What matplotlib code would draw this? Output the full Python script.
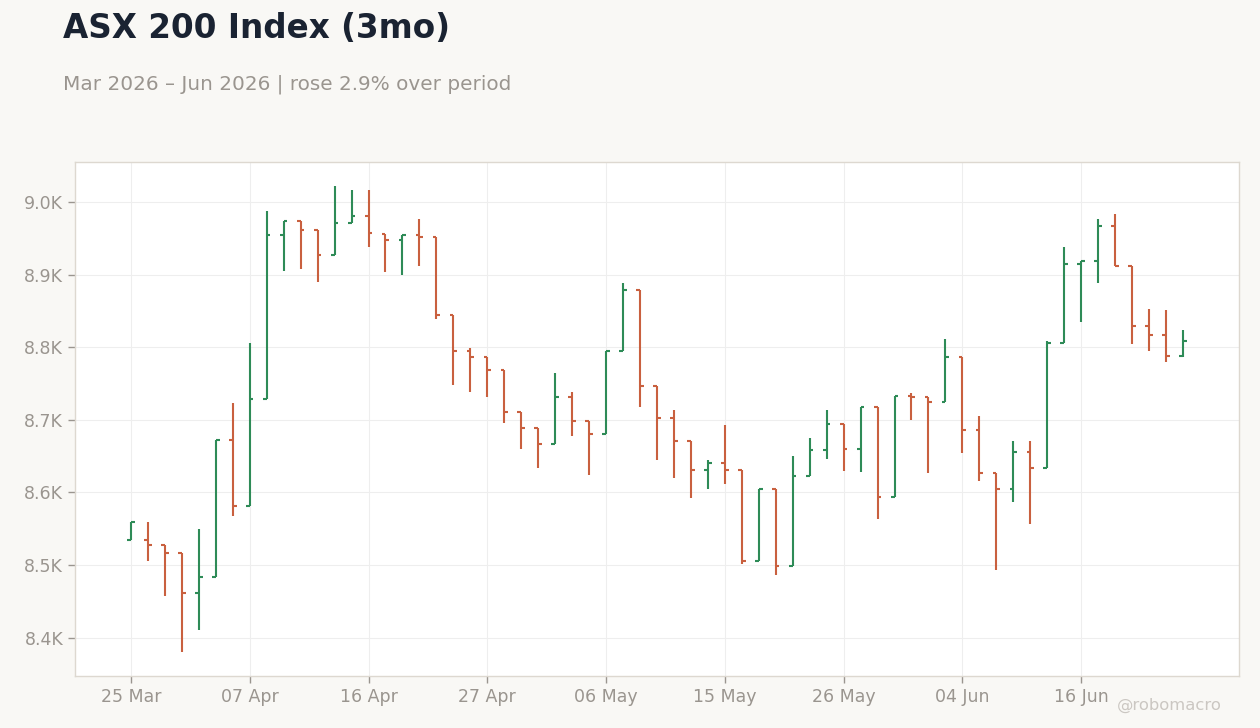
import numpy as np
import matplotlib
matplotlib.use("Agg")
import matplotlib.pyplot as plt
from matplotlib.ticker import FuncFormatter

plt.rcParams["font.family"] = ["DejaVu Sans"]

# trading days (ASX) from 25 Mar to 24 Jun 2026
dates = [
    "25 Mar", "26 Mar", "27 Mar", "30 Mar", "31 Mar", "01 Apr", "02 Apr",
    "07 Apr", "08 Apr", "09 Apr", "10 Apr", "13 Apr", "14 Apr", "15 Apr",
    "16 Apr", "17 Apr", "20 Apr", "21 Apr", "22 Apr", "23 Apr", "24 Apr",
    "27 Apr", "28 Apr", "29 Apr", "30 Apr", "01 May", "04 May", "05 May",
    "06 May", "07 May", "08 May", "11 May", "12 May", "13 May", "14 May",
    "15 May", "18 May", "19 May", "20 May", "21 May", "22 May", "25 May",
    "26 May", "27 May", "28 May", "29 May", "01 Jun", "02 Jun", "03 Jun",
    "04 Jun", "05 Jun", "09 Jun", "10 Jun", "11 Jun", "12 Jun", "15 Jun",
    "16 Jun", "17 Jun", "18 Jun", "19 Jun", "22 Jun", "23 Jun", "24 Jun",
]

opens = [
    8535, 8535, 8527, 8517, 8461, 8483, 8672, 8581, 8729, 8954, 8974, 8961,
    8927, 8971, 8980, 8956, 8948, 8955, 8951, 8844, 8794, 8787, 8768, 8711,
    8688, 8667, 8731, 8698, 8681, 8795, 8879, 8746, 8703, 8671, 8631, 8641,
    8631, 8506, 8605, 8498, 8623, 8658, 8694, 8659, 8718, 8594, 8733, 8731,
    8725, 8787, 8686, 8626, 8605, 8655, 8634, 8805, 8915, 8919, 8967, 8912,
    8829, 8817, 8788,
]
highs = [
    8559, 8559, 8527, 8517, 8550, 8672, 8723, 8805, 8988, 8974, 8974, 8961,
    9022, 9016, 9017, 8956, 8955, 8976, 8951, 8844, 8799, 8787, 8768, 8711,
    8688, 8764, 8738, 8698, 8795, 8888, 8879, 8746, 8714, 8671, 8645, 8693,
    8631, 8605, 8605, 8650, 8675, 8714, 8694, 8718, 8718, 8733, 8737, 8731,
    8811, 8787, 8705, 8626, 8671, 8671, 8809, 8938, 8919, 8977, 8984, 8912,
    8853, 8851, 8824,
]
lows = [
    8535, 8505, 8457, 8380, 8411, 8483, 8568, 8581, 8729, 8905, 8907, 8890,
    8927, 8971, 8938, 8904, 8900, 8912, 8839, 8748, 8738, 8731, 8695, 8660,
    8633, 8667, 8677, 8624, 8681, 8795, 8718, 8644, 8620, 8592, 8604, 8611,
    8501, 8506, 8486, 8498, 8623, 8646, 8630, 8628, 8563, 8594, 8699, 8627,
    8725, 8654, 8615, 8493, 8586, 8556, 8634, 8805, 8835, 8889, 8912, 8804,
    8795, 8779, 8786,
]
closes = [
    8559, 8527, 8517, 8461, 8483, 8672, 8581, 8729, 8954, 8974, 8961, 8927,
    8971, 8980, 8957, 8948, 8955, 8951, 8844, 8794, 8787, 8768, 8711, 8688,
    8667, 8731, 8698, 8681, 8795, 8879, 8746, 8703, 8671, 8631, 8641, 8631,
    8506, 8605, 8498, 8623, 8658, 8694, 8659, 8718, 8594, 8733, 8731, 8725,
    8787, 8686, 8626, 8605, 8655, 8634, 8805, 8915, 8919, 8967, 8912, 8829,
    8817, 8788, 8809,
]

title = "ASX 200 Index (3mo)"
subtitle = "Mar 2026 \u2013 Jun 2026 | rose 2.9% over period"

up_color = "#2e8b57"
down_color = "#c9603f"
bg = "#f9f8f5"

x = np.arange(len(dates))
o = np.array(opens)
h = np.array(highs)
l = np.array(lows)
c = np.array(closes)
colors = [up_color if cc >= oo else down_color for oo, cc in zip(o, c)]

fig = plt.figure(figsize=(12.6, 7.28), dpi=100, facecolor=bg)
ax = fig.add_axes([0.0595, 0.0714, 0.9238, 0.7061])
ax.set_facecolor("white")

tw = 0.22
ax.vlines(x, l, h, colors=colors, linewidth=1.5)
ax.hlines(o, x - tw, x, colors=colors, linewidth=1.5)
ax.hlines(c, x, x + tw, colors=colors, linewidth=1.5)

ax.set_xlim(-3.3, 65.3)
ax.set_ylim(8347, 9055)

tick_idx = list(range(0, len(dates), 7))
ax.set_xticks(tick_idx)
ax.set_xticklabels([dates[i] for i in tick_idx])
ax.set_yticks([8400, 8500, 8600, 8700, 8800, 8900, 9000])
ax.yaxis.set_major_formatter(FuncFormatter(lambda v, p: f"{v/1000:.1f}K"))

ax.grid(True, color="#eeeeee", linewidth=0.8)
ax.set_axisbelow(True)
for s in ax.spines.values():
    s.set_color("#ddd8d0")
    s.set_linewidth(1)
ax.tick_params(colors="#9a958f", labelsize=12.5, length=5, width=1)

fig.text(0.05, 0.983, title, fontsize=23.5, fontweight="bold", color="#1a2332",
         va="top", ha="left")
fig.text(0.05, 0.898, subtitle, fontsize=14.4, color="#9a958f",
         va="top", ha="left")
fig.text(0.97, 0.02, "@robomacro", fontsize=11.8, color="#cbc7c2",
         ha="right", va="bottom")

fig.savefig("out.png", dpi=100, facecolor=bg)
